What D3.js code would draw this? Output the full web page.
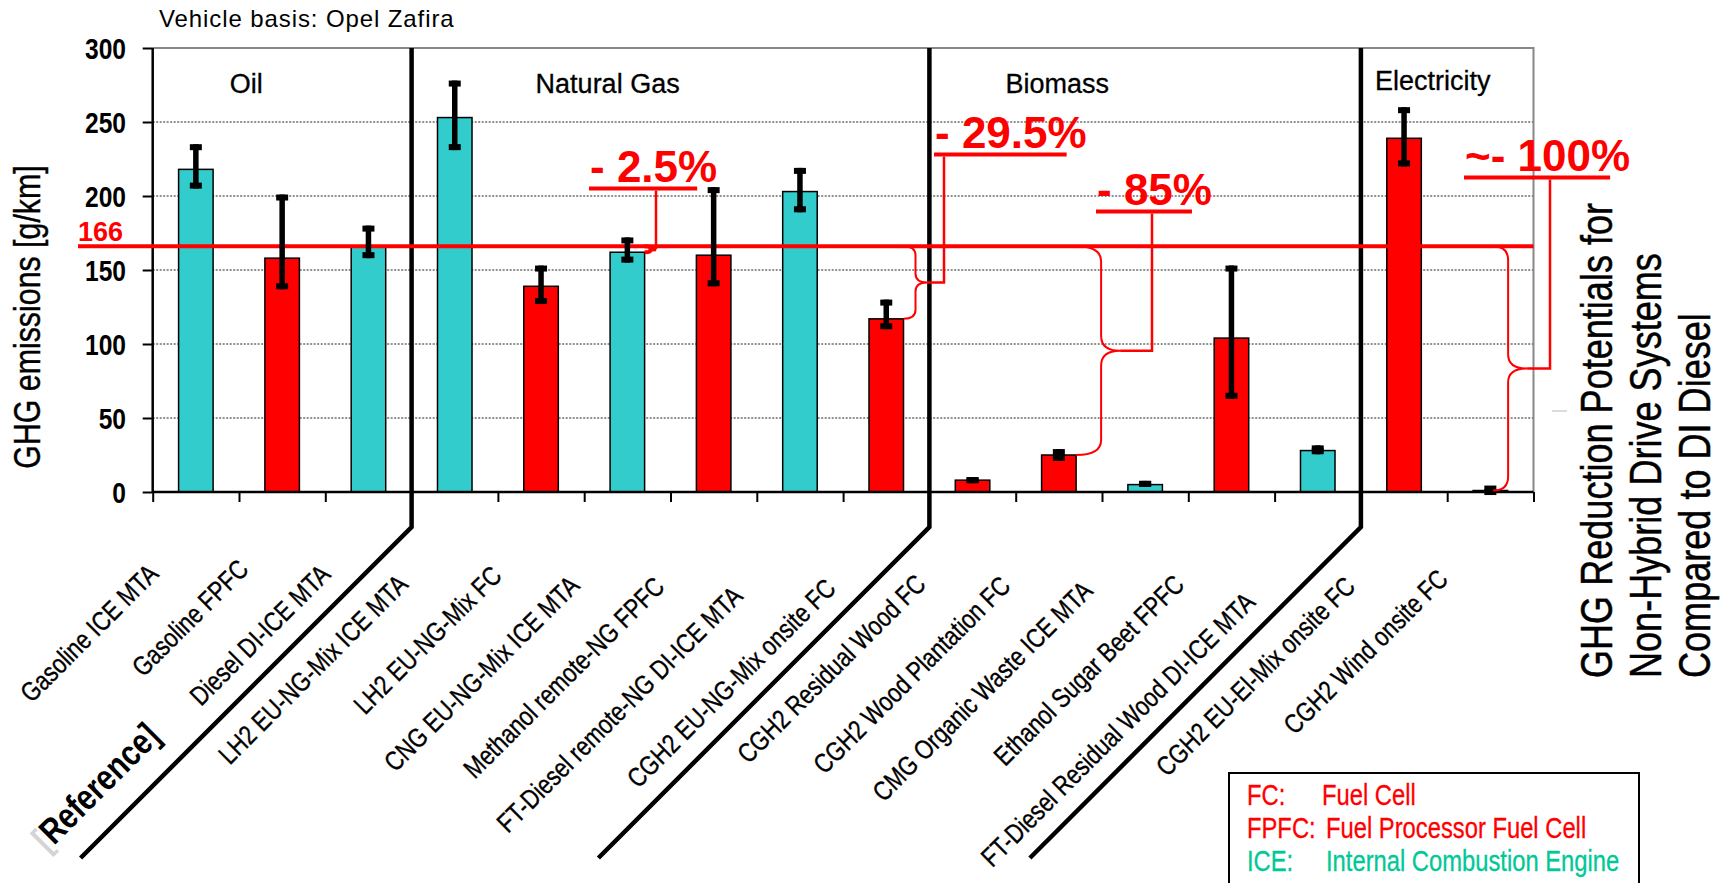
<!DOCTYPE html>
<html>
<head>
<meta charset="utf-8">
<script src="https://cdn.jsdelivr.net/npm/d3@7"></script>
<style>
  body { margin: 0; background: #fff; }
  svg { display: block; }
</style>
</head>
<body>
<svg id="chart" width="1725" height="883"></svg>
<script>
// ---- data ----
const categories = [
  "Gasoline ICE MTA", "Gasoline FPFC", "Diesel DI-ICE MTA",
  "LH2 EU-NG-Mix ICE MTA", "LH2 EU-NG-Mix FC", "CNG EU-NG-Mix ICE MTA",
  "Methanol remote-NG FPFC", "FT-Diesel remote-NG DI-ICE MTA", "CGH2 EU-NG-Mix onsite FC",
  "CGH2 Residual Wood FC", "CGH2 Wood Plantation FC", "CMG Organic Waste ICE MTA",
  "Ethanol Sugar Beet FPFC", "FT-Diesel Residual Wood DI-ICE MTA",
  "CGH2 EU-El-Mix onsite FC", "CGH2 Wind onsite FC"
];
const driveTypes = ["ICE", "FPFC", "ICE", "ICE", "FC", "ICE", "FPFC", "ICE", "FC",
                    "FC", "FC", "ICE", "FPFC", "ICE", "FC", "FC"];
const emissions = [218, 158, 166, 253, 139, 162, 160, 203, 117, 8, 25, 5, 104, 28, 239, 1];
const errorLow  = [205, 137, 158, 231, 127, 155, 139, 189, 110, 6, 21, 3.5, 63, 25.5, 220, 0.3];
const errorHigh = [235, 201, 180, 278, 153, 172, 206, 219, 130, 10, 29, 7.5, 153, 31.5, 260, 2];
const groupNames = ["Oil", "Natural Gas", "Biomass", "Electricity"];
const groupSizes = [3, 6, 5, 2];
const yTicks = [0, 50, 100, 150, 200, 250, 300];
const referenceValue = 166;
const reductionLabels = ["- 2.5%", "- 29.5%", "- 85%", "~- 100%"];
const reductionIndex = [5, 8, 10, 15];
const legendKeys = ["FC:", "FPFC:", "ICE:"];
const legendTexts = ["Fuel Cell", "Fuel Processor Fuel Cell", "Internal Combustion Engine"];
const sideTitle = ["GHG Reduction Potentials for", "Non-Hybrid Drive Systems", "Compared to DI Diesel"];

// ---- fonts ----
function hasFont(name) {
  const ctx = document.createElement("canvas").getContext("2d");
  const s = "mmmmmmmmmmlli WWW 0123456789";
  ctx.font = "40px monospace";
  const a = ctx.measureText(s).width;
  ctx.font = `40px "${name}", monospace`;
  return ctx.measureText(s).width !== a;
}
const NARROW_OK = hasFont("Liberation Sans Narrow");
const NARROW_SX = NARROW_OK ? 1 : 0.82;
const SANS = '"Liberation Sans", Arial, Helvetica, sans-serif';
function narrow(sel, size, weight, base) {
  sel.attr("font-size", size).attr("font-weight", weight || "normal");
  if (NARROW_OK) sel.attr("font-family", '"Liberation Sans Narrow", "Arial Narrow", sans-serif').attr("transform", base);
  else sel.attr("font-family", SANS).attr("transform", base + " scale(0.82,1)");
  return sel;
}
// slightly heavier glyphs for the condensed captions
const heavy = (sel, color, w) => sel.attr("stroke", color).attr("stroke-width", w || 0.35);

// ---- layout ----
const svg = d3.select("#chart");
const L = 152.7, R = 1533.5, T = 48, B = 492;
const n = categories.length;
const RED = "#ff0000", CYAN = "#33cccc", GREEN = "#00c896";

const slot = d3.scaleLinear().domain([0, n]).range([L, R]);
const xBar = d3.scaleBand().domain(d3.range(n)).range([L, R]).paddingInner(0.6).paddingOuter(0.3);
const y = d3.scaleLinear().domain([0, 300]).range([B, T]);
const cx = i => xBar(i) + xBar.bandwidth() / 2;
const fillOf = t => (t === "ICE" ? CYAN : RED);

// gridlines
svg.append("g").selectAll("line").data(yTicks.filter(v => v > 0 && v < 300)).join("line")
  .attr("x1", L).attr("x2", R).attr("y1", d => y(d)).attr("y2", d => y(d))
  .attr("stroke", "#222").attr("stroke-width", 1).attr("stroke-dasharray", "2,1.5");

// plot frame (top / right)
svg.append("path").attr("d", `M${L},${y(300)}H${R}V${B}`)
  .attr("fill", "none").attr("stroke", "#888").attr("stroke-width", 2);

// bars
svg.append("g").selectAll("rect").data(emissions).join("rect")
  .attr("x", (d, i) => xBar(i)).attr("y", d => y(d))
  .attr("width", xBar.bandwidth()).attr("height", d => B - y(d))
  .attr("fill", (d, i) => fillOf(driveTypes[i]))
  .attr("stroke", "#000").attr("stroke-width", 1.5);

// axes
const yAxis = svg.append("g").attr("transform", `translate(${L},0)`)
  .call(d3.axisLeft(y).tickValues(yTicks).tickSize(10).tickFormat(""));
yAxis.select(".domain").attr("stroke", "#000").attr("stroke-width", 2.5).attr("d", `M0,${T}V${B}`);
yAxis.selectAll(".tick line").attr("stroke", "#000").attr("stroke-width", 2);

const xAxis = svg.append("g").attr("transform", `translate(0,${B})`)
  .call(d3.axisBottom(slot).tickValues(d3.range(n + 1)).tickSize(10).tickFormat(""));
xAxis.select(".domain").attr("stroke", "#000").attr("stroke-width", 2.5).attr("d", `M${L},0H${R}`);
xAxis.selectAll(".tick line").attr("stroke", "#000").attr("stroke-width", 2);

// y tick labels
svg.append("g").selectAll("text").data(yTicks).join("text")
  .text(d => d).attr("text-anchor", "end").attr("fill", "#000")
  .each(function (d) { narrow(d3.select(this), 30, "bold", `translate(126,${y(d) + 11})`); });

// group dividers running down between the category labels
let acc = 0;
const boundaries = groupSizes.slice(0, -1).map(s => (acc += s));
svg.append("g").selectAll("path").data(boundaries).join("path")
  .attr("d", b => { const x = slot(b); return `M${x},${T}V527L${x - 331},858`; })
  .attr("fill", "none").attr("stroke", "#000").attr("stroke-width", 4.5);

// group names
const groupStarts = groupSizes.map((s, i) => d3.sum(groupSizes.slice(0, i)));
const groupOffset = { "Oil": 77, "Natural Gas": 124, "Biomass": 76, "Electricity": 14 };
const groupBase = { "Oil": 93, "Natural Gas": 93, "Biomass": 93, "Electricity": 90 };
heavy(svg.append("g").selectAll("text").data(groupNames).join("text")
  .attr("x", (d, i) => slot(groupStarts[i]) + groupOffset[d]).attr("y", d => groupBase[d])
  .attr("font-family", SANS).attr("font-size", 27).attr("fill", "#000").text(d => d), "#000", 0.3);

// reference line (DI diesel)
svg.append("line").attr("x1", 78).attr("x2", R)
  .attr("y1", y(referenceValue)).attr("y2", y(referenceValue))
  .attr("stroke", RED).attr("stroke-width", 4);
svg.append("text").attr("x", 78).attr("y", y(referenceValue) - 5)
  .attr("font-family", SANS).attr("font-weight", "bold").attr("font-size", 27)
  .attr("fill", RED).text(referenceValue);

// error bars
const eb = svg.append("g");
eb.selectAll("line").data(emissions).join("line")
  .attr("x1", (d, i) => cx(i)).attr("x2", (d, i) => cx(i))
  .attr("y1", (d, i) => y(errorHigh[i])).attr("y2", (d, i) => y(errorLow[i]))
  .attr("stroke", "#000").attr("stroke-width", 5.5);
eb.selectAll("rect.hi").data(emissions).join("rect").attr("class", "hi")
  .attr("x", (d, i) => cx(i) - 6).attr("y", (d, i) => y(errorHigh[i]))
  .attr("width", 12).attr("height", 6).attr("fill", "#000");
eb.selectAll("rect.lo").data(emissions).join("rect").attr("class", "lo")
  .attr("x", (d, i) => cx(i) - 6).attr("y", (d, i) => y(errorLow[i]) - 6)
  .attr("width", 12).attr("height", 6).attr("fill", "#000");

// category labels: end of each label slides down-left a little as the label grows
svg.append("g").selectAll("text").data(categories).join("text")
  .text(d => d).attr("text-anchor", "end").attr("fill", "#000")
  .each(function (d, i) {
    const t = d3.select(this);
    narrow(t, 27, "normal", "");
    const len = this.getComputedTextLength() * NARROW_SX;
    const ex = cx(i) - 32 - 0.13 * (len - 151);
    const ey = 571 + 0.147 * (len - 151);
    narrow(t, 27, "normal", `translate(${ex},${ey}) rotate(-45)`);
    heavy(t, "#000", 0.35);
  });

// reference marker under the diesel label
const refText = svg.append("text").attr("text-anchor", "start");
narrow(refText, 36, "bold", "translate(47,853) rotate(-45)");
refText.append("tspan").attr("fill", "#d4d4d4").text("[");
refText.append("tspan").attr("fill", "#000").text("Reference]");

// reduction annotations: brace from the reference level down to each system
const annoLayout = [
  { tx: 590, ty: 182, x1: 5.5, x2: 11.5, stem: 656, c: 1 },
  { tx: 935, ty: 148, x1: 12, x2: 23.5, stem: 944, c: 9 },
  { tx: 1097, ty: 205, x1: 25, x2: 44, stem: 1152, c: 15 },
  { tx: 1465, ty: 171, x1: 15, x2: 34, stem: 1550, c: 14, x0: -14.5 }
];
const ann = svg.append("g");
reductionLabels.forEach((lab, k) => {
  const lay = annoLayout[k];
  const idx = reductionIndex[k];
  const x0 = xBar(idx) + xBar.bandwidth() + (lay.x0 || 0);
  const yT = y(referenceValue), yB = y(emissions[idx]);
  const ym = (yT + yB) / 2;
  const xa = x0 + lay.x1, xt = x0 + lay.x2, c = lay.c;
  ann.append("path")
    .attr("d", `M${x0},${yT}Q${xa},${yT} ${xa},${yT + c}L${xa},${ym - c}Q${xa},${ym} ${xt},${ym}` +
               `Q${xa},${ym} ${xa},${ym + c}L${xa},${yB - c}Q${xa},${yB} ${x0},${yB}`)
    .attr("fill", "none").attr("stroke", RED).attr("stroke-width", k === 0 ? 4 : 2);
  const t = ann.append("text").attr("x", lay.tx).attr("y", lay.ty)
    .attr("font-family", SANS).attr("font-weight", "bold").attr("font-size", 44)
    .attr("fill", RED).text(lab);
  const len = t.node().getComputedTextLength();
  const uy = lay.ty + 6.5;
  ann.append("line").attr("x1", lay.tx - 1).attr("x2", lay.tx + len - 20)
    .attr("y1", uy).attr("y2", uy).attr("stroke", RED).attr("stroke-width", 4);
  ann.append("path").attr("d", `M${lay.stem},${uy + 2}V${ym}H${xt}`)
    .attr("fill", "none").attr("stroke", RED).attr("stroke-width", 2.5);
});

// y axis title
const yTitle = svg.append("text").attr("text-anchor", "middle").attr("fill", "#000").text("GHG emissions [g/km]");
narrow(yTitle, 37, "normal", "translate(40,317) rotate(-90)");
heavy(yTitle, "#000", 0.4);

// chart caption
svg.append("text").attr("x", 159).attr("y", 27).attr("font-family", SANS)
  .attr("font-size", 24).attr("letter-spacing", 0.9).attr("fill", "#000").text("Vehicle basis: Opel Zafira");

// side title
svg.append("g").selectAll("text").data(sideTitle).join("text")
  .text(d => d).attr("text-anchor", "start").attr("fill", "#000")
  .each(function (d, i) {
    narrow(d3.select(this), 44, "normal", `translate(${1612 + i * 49},678) rotate(-90)`);
    heavy(d3.select(this), "#000", 0.5);
  });
svg.append("line").attr("x1", 1552).attr("x2", 1567).attr("y1", 411).attr("y2", 411)
  .attr("stroke", "#dcdcdc").attr("stroke-width", 2);

// legend
svg.append("rect").attr("x", 1229).attr("y", 773).attr("width", 410).attr("height", 130)
  .attr("fill", "#fff").attr("stroke", "#000").attr("stroke-width", 2);
const legendColors = [RED, RED, GREEN];
const lg = svg.append("g");
legendKeys.forEach((k, i) => {
  const by = 805 + i * 33;
  heavy(narrow(lg.append("text").attr("fill", legendColors[i]).text(k), 29, "normal", `translate(1247,${by})`),
        legendColors[i], 0.3);
  heavy(narrow(lg.append("text").attr("fill", legendColors[i]).text(legendTexts[i]), 29, "normal",
         `translate(${i === 0 ? 1322 : 1326},${by})`), legendColors[i], 0.3);
});
</script>
</body>
</html>
